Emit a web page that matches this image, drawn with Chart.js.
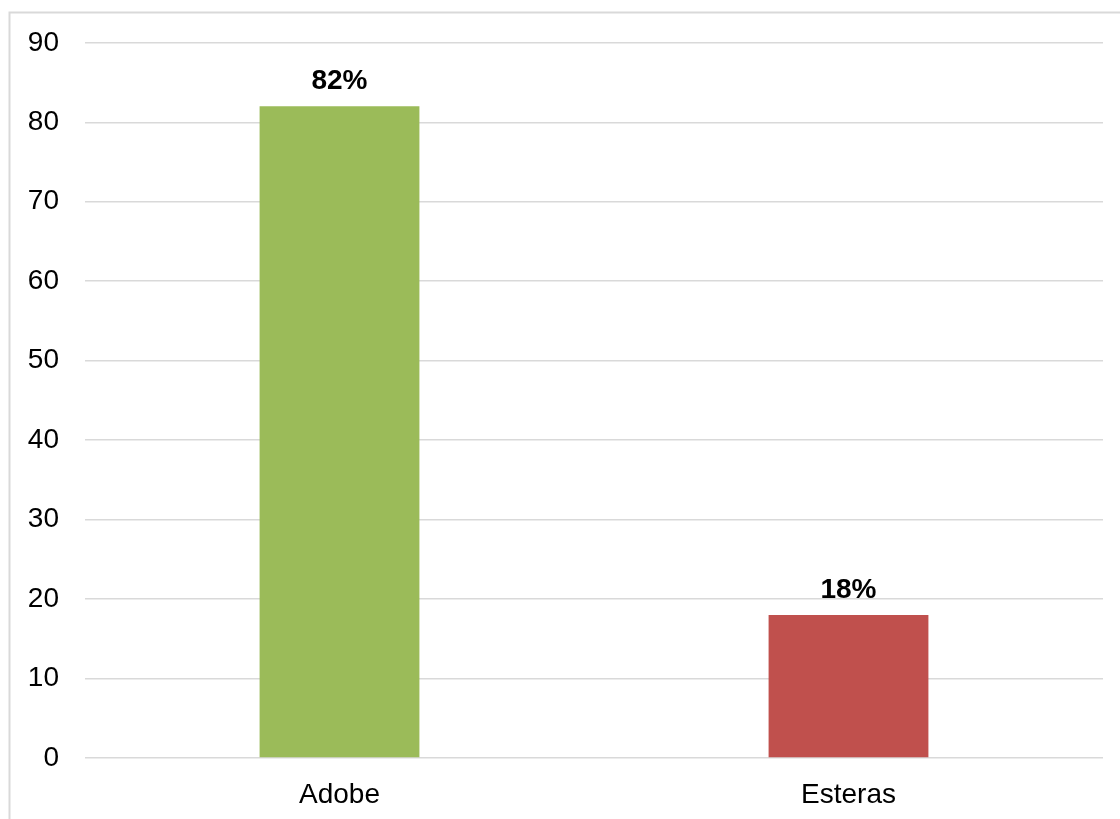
<!DOCTYPE html>
<html>
<head>
<meta charset="utf-8">
<script src="https://cdn.jsdelivr.net/npm/chart.js@4"></script>
<style>
  html, body { margin: 0; padding: 0; background: #ffffff; }
  #wrap { width: 1120px; height: 819px; position: relative; }
</style>
</head>
<body>
<div id="wrap"><canvas id="chart" width="1120" height="819"></canvas></div>
<script>
// Material share per category (percent)
const categories = ['Adobe', 'Esteras'];
const values = [82, 18];
const barColors = ['#9BBB59', '#C0504D'];
const yTicks = [0, 10, 20, 30, 40, 50, 60, 70, 80, 90];

const FONT = '"Liberation Sans", Arial, sans-serif';

// Outer frame of the chart
const framePlugin = {
  id: 'frame',
  beforeDraw(chart) {
    const ctx = chart.ctx;
    ctx.save();
    ctx.strokeStyle = '#d9d9d9';
    ctx.lineWidth = 2;
    ctx.strokeRect(9.5, 12.5, 1300, 1000);
    ctx.restore();
  }
};

// Bold percentage labels above each bar
const valueLabels = {
  id: 'valueLabels',
  afterDatasetsDraw(chart) {
    const ctx = chart.ctx;
    const meta = chart.getDatasetMeta(0);
    ctx.save();
    ctx.font = 'bold 28px ' + FONT;
    ctx.fillStyle = '#000000';
    ctx.textAlign = 'center';
    ctx.textBaseline = 'alphabetic';
    meta.data.forEach((bar, i) => {
      ctx.fillText(values[i] + '%', bar.x, bar.y - 17);
    });
    ctx.restore();
  }
};

new Chart(document.getElementById('chart'), {
  type: 'bar',
  data: {
    labels: categories,
    datasets: [{
      data: values,
      backgroundColor: barColors,
      borderWidth: 0,
      barPercentage: 0.314,
      categoryPercentage: 1.0
    }]
  },
  options: {
    responsive: false,
    animation: false,
    events: [],
    layout: { padding: { left: 0, right: 17, top: 42, bottom: 0 } },
    plugins: {
      legend: { display: false },
      tooltip: { enabled: false }
    },
    scales: {
      x: {
        grid: { display: false },
        border: { display: false },
        ticks: {
          color: '#000000',
          font: { family: FONT, size: 28 },
          padding: 12
        },
        afterFit(scale) { scale.height = 61; }
      },
      y: {
        min: 0,
        max: 90,
        afterBuildTicks(scale) {
          scale.ticks = yTicks.map(v => ({ value: v }));
        },
        grid: {
          color: '#d9d9d9',
          lineWidth: 1.5,
          drawTicks: false
        },
        border: { display: false },
        ticks: {
          color: '#000000',
          font: { family: FONT, size: 28 },
          padding: 26
        },
        afterFit(scale) { scale.width = 85; }
      }
    }
  },
  plugins: [framePlugin, valueLabels]
});
</script>
</body>
</html>
